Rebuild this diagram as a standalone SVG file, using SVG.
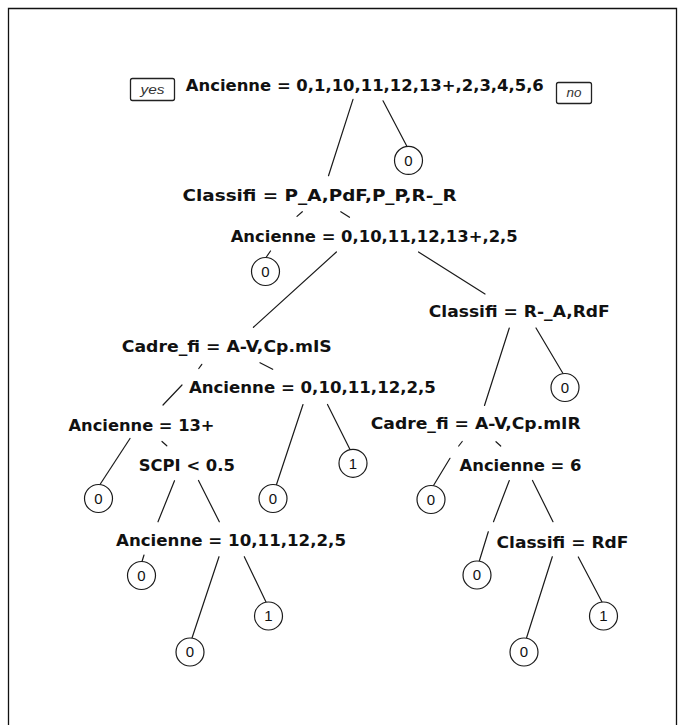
<svg xmlns="http://www.w3.org/2000/svg" width="685" height="725" viewBox="0 0 685 725">
<style>
.lbl{font-family:"DejaVu Sans","Liberation Sans",sans-serif;font-weight:bold;font-size:16.5px;fill:#111;text-anchor:middle}
.leaf circle{fill:#fff;stroke:#1a1a1a;stroke-width:1.2}
.leaf text{font-family:"Liberation Sans",Arial,sans-serif;font-size:15px;fill:#111;text-anchor:middle}
.edge line{stroke:#1a1a1a;stroke-width:1.2;stroke-linecap:round}
.tag rect{fill:#fff;stroke:#222;stroke-width:1.3}
.tag text{font-family:"Liberation Sans",Arial,sans-serif;font-style:italic;font-size:13.5px;fill:#333;text-anchor:middle}
</style>
<rect x="0" y="0" width="685" height="725" fill="#fff"/>
<path d="M8.5,725 V8.5 H676.5 V725" fill="none" stroke="#111" stroke-width="1.3"/>
<g id="connectors" class="edge">
<line x1="353" y1="99.4" x2="328.5" y2="175.7"/>
<line x1="383" y1="100.8" x2="407" y2="146.5"/>
<line x1="302.3" y1="211.7" x2="297" y2="216.4"/>
<line x1="270.5" y1="251" x2="266" y2="257.5"/>
<line x1="340.8" y1="211.7" x2="349.5" y2="217.3"/>
<line x1="336.4" y1="252" x2="253.4" y2="327.3"/>
<line x1="418.5" y1="252" x2="485" y2="294"/>
<line x1="509.3" y1="328" x2="484.5" y2="405.5"/>
<line x1="536" y1="328" x2="563" y2="373.5"/>
<line x1="201.8" y1="364.3" x2="198.8" y2="368.5"/>
<line x1="182" y1="385" x2="163" y2="405"/>
<line x1="260" y1="362.7" x2="272.7" y2="369.3"/>
<line x1="303" y1="404.5" x2="276.5" y2="484.5"/>
<line x1="327.5" y1="404.5" x2="350" y2="449.5"/>
<line x1="130" y1="438.5" x2="100" y2="484.5"/>
<line x1="162" y1="441.5" x2="166.8" y2="445.8"/>
<line x1="174.5" y1="480.7" x2="158" y2="521.8"/>
<line x1="144" y1="555" x2="142" y2="561.5"/>
<line x1="198.5" y1="480.5" x2="219.3" y2="521.8"/>
<line x1="219" y1="556.7" x2="192" y2="638"/>
<line x1="244.3" y1="556.7" x2="266" y2="602"/>
<line x1="462.2" y1="441.5" x2="458.7" y2="446"/>
<line x1="450" y1="458.3" x2="433.5" y2="485.5"/>
<line x1="496" y1="441.7" x2="500.7" y2="446"/>
<line x1="509.3" y1="480.5" x2="493.5" y2="521.7"/>
<line x1="488.3" y1="531.7" x2="479.3" y2="561"/>
<line x1="532.5" y1="480.5" x2="553" y2="521.7"/>
<line x1="552.3" y1="556.7" x2="526.5" y2="638"/>
<line x1="578.3" y1="557" x2="602" y2="602"/>
</g>
<g id="tag-yes" class="tag"><rect x="130.5" y="78.5" width="44" height="22" rx="2"/><text x="152.5" y="94" textLength="24" lengthAdjust="spacingAndGlyphs">yes</text></g>
<g id="tag-no" class="tag"><rect x="556.5" y="82.5" width="35" height="21" rx="2"/><text x="574" y="97" textLength="15" lengthAdjust="spacingAndGlyphs">no</text></g>
<g id="n1"><text class="lbl" x="364.8" y="90.6" textLength="358" lengthAdjust="spacingAndGlyphs">Ancienne = 0,1,10,11,12,13+,2,3,4,5,6</text></g>
<g id="n2"><text class="lbl" x="319.6" y="201.1" textLength="274" lengthAdjust="spacingAndGlyphs">Classifi = P_A,PdF,P_P,R-_R</text></g>
<g id="n3"><text class="lbl" x="374.2" y="241.8" textLength="287" lengthAdjust="spacingAndGlyphs">Ancienne = 0,10,11,12,13+,2,5</text></g>
<g id="n4"><text class="lbl" x="519.3" y="317" textLength="181" lengthAdjust="spacingAndGlyphs">Classifi = R-_A,RdF</text></g>
<g id="n5"><text class="lbl" x="226.8" y="352" textLength="210" lengthAdjust="spacingAndGlyphs">Cadre_fi = A-V,Cp.mIS</text></g>
<g id="n6"><text class="lbl" x="312.4" y="392.5" textLength="247" lengthAdjust="spacingAndGlyphs">Ancienne = 0,10,11,12,2,5</text></g>
<g id="n7"><text class="lbl" x="141.5" y="430.5" textLength="146" lengthAdjust="spacingAndGlyphs">Ancienne = 13+</text></g>
<g id="n8"><text class="lbl" x="186.8" y="471" textLength="96" lengthAdjust="spacingAndGlyphs">SCPI &lt; 0.5</text></g>
<g id="n9"><text class="lbl" x="475.7" y="429.3" textLength="210" lengthAdjust="spacingAndGlyphs">Cadre_fi = A-V,Cp.mIR</text></g>
<g id="n10"><text class="lbl" x="520.5" y="471" textLength="122" lengthAdjust="spacingAndGlyphs">Ancienne = 6</text></g>
<g id="n11"><text class="lbl" x="231" y="546" textLength="230" lengthAdjust="spacingAndGlyphs">Ancienne = 10,11,12,2,5</text></g>
<g id="n12"><text class="lbl" x="562.5" y="547.7" textLength="132" lengthAdjust="spacingAndGlyphs">Classifi = RdF</text></g>
<g id="leaf1" class="leaf"><circle cx="408.5" cy="160.4" r="14"/><text x="408.5" y="165.7">0</text></g>
<g id="leaf2" class="leaf"><circle cx="265.5" cy="271.5" r="14"/><text x="265.5" y="276.8">0</text></g>
<g id="leaf3" class="leaf"><circle cx="565" cy="387.5" r="14"/><text x="565" y="392.8">0</text></g>
<g id="leaf4" class="leaf"><circle cx="353" cy="463.3" r="14"/><text x="353" y="468.6">1</text></g>
<g id="leaf5" class="leaf"><circle cx="273" cy="498.5" r="14"/><text x="273" y="503.8">0</text></g>
<g id="leaf6" class="leaf"><circle cx="98.5" cy="498.5" r="14"/><text x="98.5" y="503.8">0</text></g>
<g id="leaf7" class="leaf"><circle cx="431" cy="499.5" r="14"/><text x="431" y="504.8">0</text></g>
<g id="leaf8" class="leaf"><circle cx="141.5" cy="575.5" r="14"/><text x="141.5" y="580.8">0</text></g>
<g id="leaf9" class="leaf"><circle cx="268.5" cy="616" r="14"/><text x="268.5" y="621.3">1</text></g>
<g id="leaf10" class="leaf"><circle cx="190" cy="652" r="14"/><text x="190" y="657.3">0</text></g>
<g id="leaf11" class="leaf"><circle cx="477" cy="575" r="14"/><text x="477" y="580.3">0</text></g>
<g id="leaf12" class="leaf"><circle cx="603.5" cy="616" r="14"/><text x="603.5" y="621.3">1</text></g>
<g id="leaf13" class="leaf"><circle cx="524" cy="652" r="14"/><text x="524" y="657.3">0</text></g>
</svg>
